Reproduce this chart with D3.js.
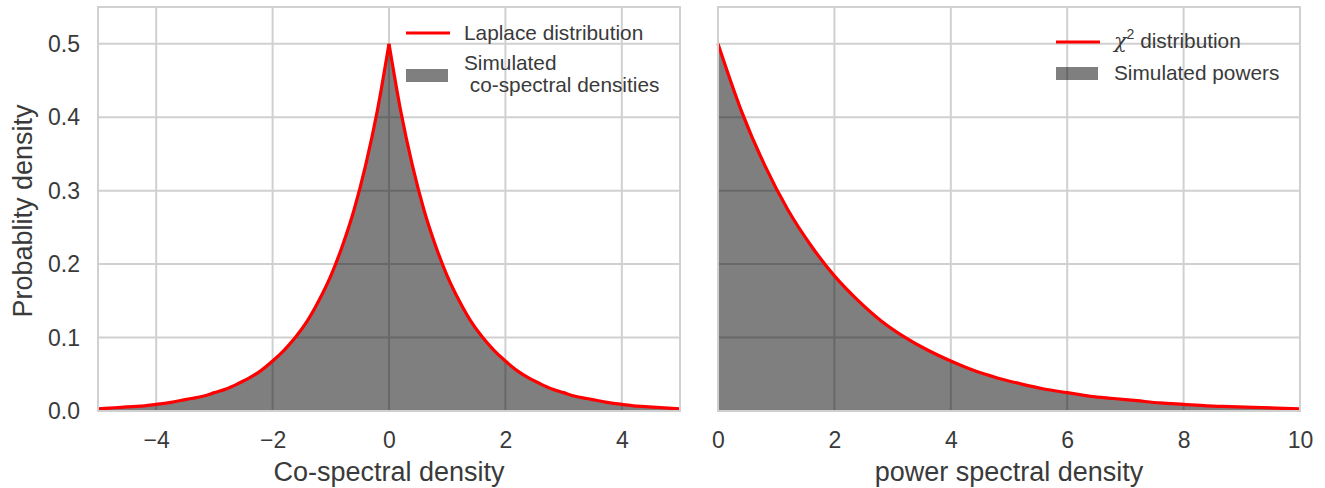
<!DOCTYPE html>
<html lang="en">
<head>
    <meta charset="UTF-8">
    <title>Density comparison</title>
    <script src="https://cdn.jsdelivr.net/npm/d3@7"></script>
    <style>
        html, body { margin: 0; padding: 0; background: #fff; }
        text { font-family: "Liberation Sans", Arial, sans-serif; fill: #3a3a3a; }
    </style>
</head>
<body>
<svg id="chart" width="1325" height="488"></svg>
<script>
    // values (density on the curve / histogram)
    const laplaceX = [0, 0.2, 0.4, 0.6, 0.8, 1.0, 1.2, 1.4, 1.6, 1.8, 2.0, 2.2, 2.4, 2.6, 2.8,
        3.0, 3.2, 3.4, 3.6, 3.8, 4.0, 4.2, 4.4, 4.6, 4.8, 5.0];
    const laplaceY = [0.500, 0.409, 0.335, 0.274, 0.225, 0.184, 0.151, 0.123, 0.101, 0.083, 0.068,
        0.055, 0.045, 0.037, 0.030, 0.025, 0.020, 0.017, 0.014, 0.011, 0.009, 0.007, 0.006,
        0.005, 0.004, 0.003];
    const cospecHist = [0.497, 0.407, 0.333, 0.273, 0.224, 0.183, 0.150, 0.122, 0.100, 0.082, 0.067,
        0.055, 0.045, 0.037, 0.030, 0.024, 0.020, 0.016, 0.013, 0.011, 0.009, 0.007, 0.006,
        0.005, 0.004, 0.003];

    const chi2X = [0, 0.4, 0.8, 1.2, 1.6, 2.0, 2.4, 2.8, 3.2, 3.6, 4.0, 4.4, 4.8, 5.2, 5.6,
        6.0, 6.4, 6.8, 7.2, 7.6, 8.0, 8.4, 8.8, 9.2, 9.6, 10.0];
    const chi2Y = [0.500, 0.409, 0.335, 0.274, 0.225, 0.184, 0.151, 0.123, 0.101, 0.083, 0.068,
        0.055, 0.045, 0.037, 0.030, 0.025, 0.020, 0.017, 0.014, 0.011, 0.009, 0.007, 0.006,
        0.005, 0.004, 0.003];
    const powerHist = [0.497, 0.407, 0.333, 0.273, 0.224, 0.183, 0.150, 0.122, 0.100, 0.082, 0.067,
        0.055, 0.045, 0.037, 0.030, 0.024, 0.020, 0.016, 0.013, 0.011, 0.009, 0.007, 0.006,
        0.005, 0.004, 0.003];

    const yTicks = [0, 0.1, 0.2, 0.3, 0.4, 0.5];
    const leftXTicks = [-4, -2, 0, 2, 4];
    const rightXTicks = [0, 2, 4, 6, 8, 10];

    const svg = d3.select("#chart");
    const yTop = 7, yBottom = 411;
    const y = d3.scaleLinear().domain([0, 0.55]).range([yBottom, yTop]);

    function panel(opts) {
        const x = d3.scaleLinear().domain(opts.domain).range(opts.range);
        const g = svg.append("g");

        // grid
        g.append("g").selectAll("line").data(opts.xTicks).join("line")
            .attr("x1", d => x(d)).attr("x2", d => x(d))
            .attr("y1", yTop).attr("y2", yBottom)
            .attr("stroke", "#d0d0d0").attr("stroke-width", 2);
        g.append("g").selectAll("line").data(yTicks).join("line")
            .attr("x1", opts.range[0]).attr("x2", opts.range[1])
            .attr("y1", d => y(d)).attr("y2", d => y(d))
            .attr("stroke", "#d0d0d0").attr("stroke-width", 2);

        // histogram (fine bins -> drawn as filled area) and curve
        const area = d3.area().x(d => x(d[0])).y0(y(0)).y1(d => y(d[1])).curve(d3.curveMonotoneX);
        const line = d3.line().x(d => x(d[0])).y(d => y(d[1])).curve(d3.curveMonotoneX);
        opts.parts.forEach(p => {
            g.append("path").datum(p.hist)
                .attr("d", area).attr("fill", "#000").attr("fill-opacity", 0.5);
        });
        opts.parts.forEach(p => {
            g.append("path").datum(p.curve)
                .attr("d", line).attr("fill", "none").attr("stroke", "red")
                .attr("stroke-width", 3.2).attr("stroke-linejoin", "round");
        });

        // frame
        g.append("rect")
            .attr("x", opts.range[0]).attr("y", yTop)
            .attr("width", opts.range[1] - opts.range[0]).attr("height", yBottom - yTop)
            .attr("fill", "none").attr("stroke", "#d0d0d0").attr("stroke-width", 2);

        // axis
        const ax = g.append("g").attr("transform", `translate(0,${yBottom})`)
            .call(d3.axisBottom(x).tickValues(opts.xTicks).tickSize(0).tickPadding(21)
                .tickFormat(d => d < 0 ? "\u2212" + Math.abs(d) : d));
        ax.select(".domain").remove();
        ax.selectAll("text").attr("font-size", 23).attr("fill", "#3a3a3a")
            .attr("font-family", "Liberation Sans, Arial, sans-serif");

        g.append("text").attr("x", (opts.range[0] + opts.range[1]) / 2).attr("y", 481)
            .attr("text-anchor", "middle").attr("font-size", 27).text(opts.xLabel);
        return g;
    }

    const leftRight = laplaceX.map((v, i) => [v, laplaceY[i]]);
    const leftLeft = laplaceX.map((v, i) => [-v, laplaceY[i]]).reverse();
    const histRight = laplaceX.map((v, i) => [v, cospecHist[i]]);
    const histLeft = laplaceX.map((v, i) => [-v, cospecHist[i]]).reverse();

    const gl = panel({
        domain: [-5, 5], range: [98, 680], xTicks: leftXTicks,
        xLabel: "Co-spectral density",
        parts: [{hist: histLeft, curve: leftLeft}, {hist: histRight, curve: leftRight}]
    });
    panel({
        domain: [0, 10], range: [718, 1300], xTicks: rightXTicks,
        xLabel: "power spectral density",
        parts: [{hist: chi2X.map((v, i) => [v, powerHist[i]]), curve: chi2X.map((v, i) => [v, chi2Y[i]])}]
    });

    // y axis on the left panel
    gl.append("g").selectAll("text").data(yTicks).join("text")
        .attr("x", 80).attr("y", d => y(d)).attr("dy", "0.36em")
        .attr("text-anchor", "end").attr("font-size", 23)
        .text(d => d.toFixed(1));
    svg.append("text").attr("transform", "translate(32,211) rotate(-90)")
        .attr("text-anchor", "middle").attr("font-size", 27).text("Probablity density");

    // legends
    function legend(x0, items) {
        const lg = svg.append("g");
        items.forEach(it => {
            if (it.kind === "line") {
                lg.append("line").attr("x1", x0).attr("x2", x0 + 44)
                    .attr("y1", it.y).attr("y2", it.y).attr("stroke", "red").attr("stroke-width", 3.2);
            } else {
                lg.append("rect").attr("x", x0).attr("y", it.y - 6.5).attr("width", 42).attr("height", 13)
                    .attr("fill", "#000").attr("fill-opacity", 0.5);
            }
            const t = lg.append("text").attr("x", x0 + 58).attr("font-size", 20.8);
            it.lines.forEach((s, i) => {
                const ts = t.append("tspan").attr("x", x0 + 58).attr("y", it.ty + i * 22);
                if (typeof s === "string") ts.text(s);
                else s(ts);
            });
        });
    }
    legend(406, [
        {kind: "line", y: 33, ty: 40, lines: ["Laplace distribution"]},
        {kind: "patch", y: 75.5, ty: 70, lines: ["Simulated", "\u00a0co-spectral densities"]}
    ]);
    legend(1056, [
        {kind: "line", y: 42, ty: 48, lines: [ts => {
            ts.append("tspan").attr("font-style", "italic").attr("font-family", "DejaVu Serif, serif").text("\u03c7");
            ts.append("tspan").attr("dy", -9).attr("font-size", 14).text("2");
            ts.append("tspan").attr("dy", 9).text(" distribution");
        }]},
        {kind: "patch", y: 73.5, ty: 80, lines: ["Simulated powers"]}
    ]);
</script>
</body>
</html>
